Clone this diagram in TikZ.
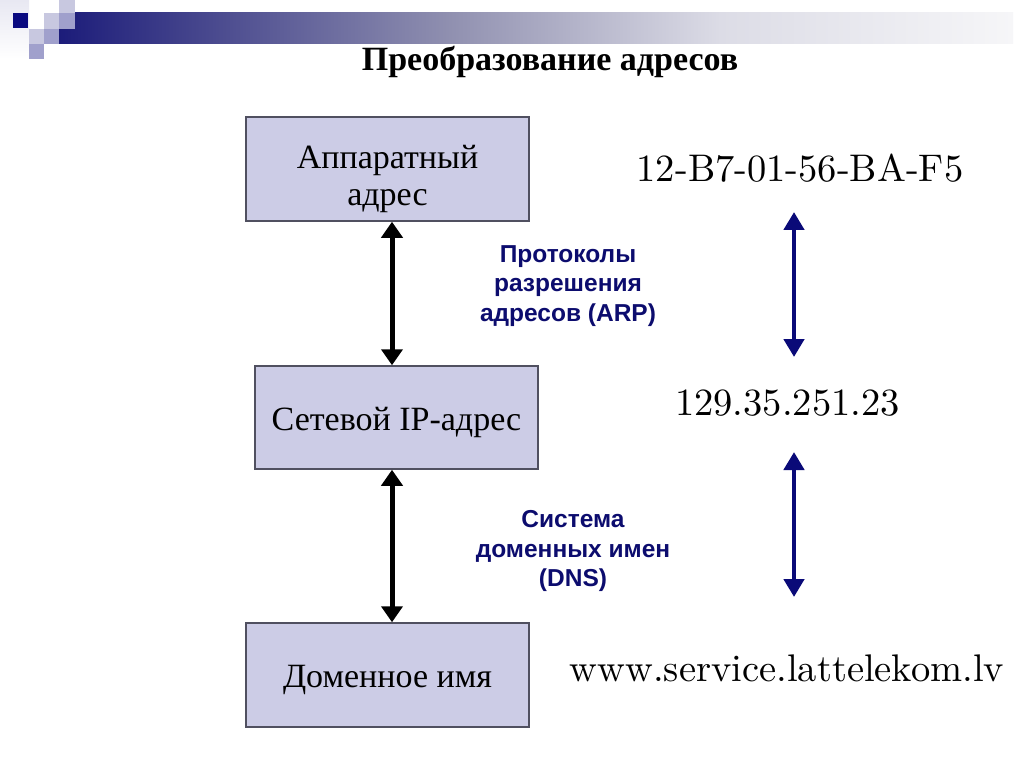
\documentclass[tikz,border=0pt]{standalone}
\usepackage{fontspec}
\usetikzlibrary{arrows.meta}
\newfontfamily\tnr{Liberation Serif}
\newfontfamily\arl{Liberation Sans}
\newfontfamily\lmten{lmroman10-regular.otf}
\definecolor{boxfill}{RGB}{204,204,230}
\definecolor{boxline}{RGB}{80,80,96}
\definecolor{navyc}{RGB}{10,10,120}
\definecolor{labc}{RGB}{12,12,110}
\definecolor{ga}{RGB}{28,28,122}
\definecolor{gb}{RGB}{64,64,138}
\definecolor{gc}{RGB}{144,144,176}
\definecolor{gd}{RGB}{220,220,230}
\definecolor{ge}{RGB}{246,246,248}
\definecolor{sqdark}{RGB}{10,10,128}
\definecolor{sqlight}{RGB}{200,200,224}
\definecolor{sqmid}{RGB}{160,160,204}
\definecolor{sqfaint}{RGB}{232,232,242}
\begin{document}
\begin{tikzpicture}[x=1pt,y=-1pt,
  box/.style={draw=boxline, line width=1.5pt, fill=boxfill, minimum width=283pt,
    minimum height=104pt, inner sep=0pt, align=center,
    font=\tnr\fontsize{34}{36.7}\selectfont},
  lab/.style={text=labc, align=center, inner sep=0pt,
    font=\arl\bfseries\fontsize{24.5}{29.5}\selectfont},
  val/.style={inner sep=0pt, anchor=base, font=\lmten\fontsize{38.5}{40}\selectfont},
  blk/.style={line width=5pt, {Triangle[width=21pt,length=16pt]}-{Triangle[width=21pt,length=16pt]}},
  blu/.style={draw=navyc, line width=4.8pt, {Triangle[width=20pt,length=18pt]}-{Triangle[width=20pt,length=18pt]}}]
\useasboundingbox (0,0) rectangle (1024,767);
\fill[white] (0,0) rectangle (1024,767);
% header decoration
\shade[top color=sqfaint, bottom color=white] (0,0) rectangle (29,59);
\shade[left color=ga, right color=gb] (59,13) rectangle (180.5,44);
\shade[left color=gb, right color=gc] (180,13) rectangle (450.5,44);
\shade[left color=gc, right color=gd] (450,13) rectangle (720.5,44);
\shade[left color=gd, right color=ge] (720,13) rectangle (1013,44);
\fill[sqdark] (13,13) rectangle (28,28);
\fill[sqlight] (44,13) rectangle (59,29);
\fill[sqlight] (59,0) rectangle (75,13);
\fill[sqmid] (59,13) rectangle (75,29);
\fill[sqlight] (29,29) rectangle (44,44);
\fill[sqmid] (44,29) rectangle (59,44);
\fill[sqmid] (29,44) rectangle (44,59);
% title
\node[inner sep=0pt, anchor=base, font=\tnr\bfseries\fontsize{34}{36}\selectfont] (title) at (550,71) {Преобразование адресов};
% boxes
\node[box] (b1) at (387.5,169) {\rule{0pt}{43pt}Аппаратный\\адрес};
\node[box, minimum height=103pt] (b2) at (396.5,417.5) {\rule{0pt}{34pt}Сетевой IP-адрес};
\node[box] (b3) at (387.5,675) {\rule{0pt}{33pt}Доменное имя};
% black arrows
\coordinate (ax) at (392,0);
\draw[blk] (b1.south -| ax) -- (b2.north -| ax);
\draw[blk] (b2.south -| ax) -- (b3.north -| ax);
% labels
\node[lab] (arp) at (568,286) {Протоколы\\разрешения\\адресов (ARP)};
\node[lab] (dns) at (573,551) {Система\\доменных имен\\(DNS)};
% values
\node[val] (v1) at (800,182) {12-B7-01-56-BA-F5};
\node[val] (v2) at (787.5,415) {129.35.251.23};
\node[val] (v3) at (787,681) {www.service.lattelekom.lv};
% blue arrows
\coordinate (u1) at (794,212);
\coordinate (u2) at (794,357);
\coordinate (u3) at (794,452);
\coordinate (u4) at (794,597);
\draw[blu] (u1) -- (u2);
\draw[blu] (u3) -- (u4);
\end{tikzpicture}
\end{document}
